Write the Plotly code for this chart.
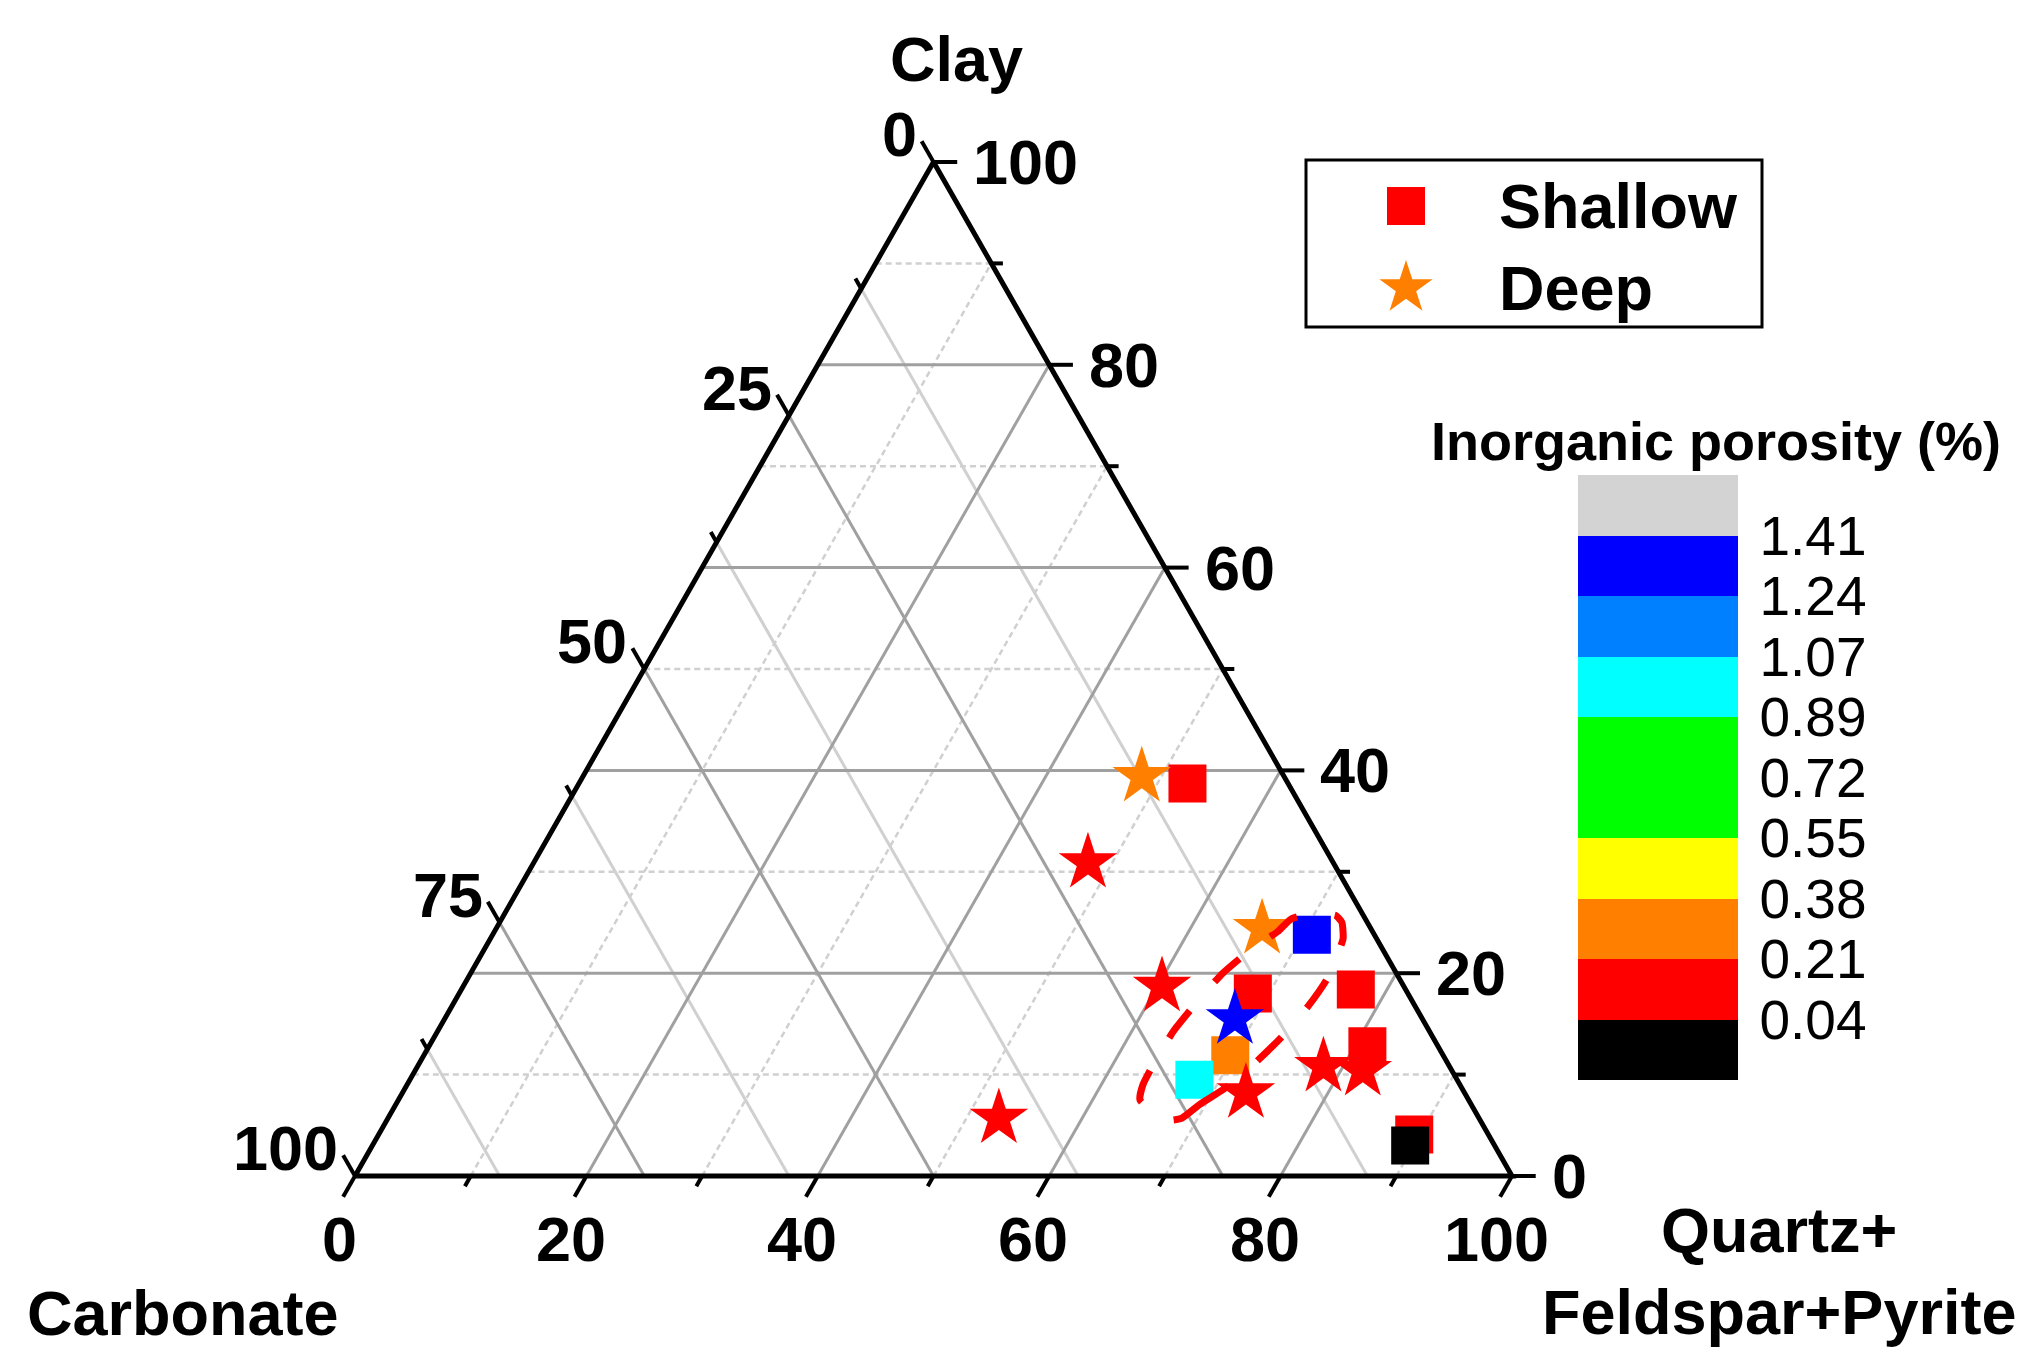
import math
import plotly.graph_objects as go

WIDTH = 2043
HEIGHT = 1367
FONT = "Liberation Sans, Arial, sans-serif"

# composition in % (quartz+feldspar+pyrite, clay; carbonate is the rest)
shallow_quartz = [52.6, 70.8, 68.6, 77.3, 69.7, 67.8, 81.1, 89.5, 89.7]
shallow_clay = [38.7, 23.8, 18.0, 18.4, 11.9, 9.5, 12.8, 4.1, 3.0]
shallow_carbonate = [8.7, 5.4, 13.4, 4.3, 18.4, 22.7, 6.1, 6.4, 7.3]
shallow_porosity = [0.15, 1.31, 0.12, 0.18, 0.29, 0.97, 0.10, 0.14, 0.02]

deep_quartz = [48.3, 47.9, 66.2, 60.4, 68.3, 72.9, 78.3, 81.9, 52.8]
deep_clay = [39.4, 30.9, 24.4, 18.7, 15.5, 8.2, 10.8, 10.4, 5.7]
deep_carbonate = [12.3, 21.2, 9.4, 20.9, 16.2, 18.9, 10.9, 7.7, 41.5]
deep_porosity = [0.30, 0.13, 0.26, 0.11, 1.28, 0.09, 0.16, 0.12, 0.07]

# dashed outline drawn around the main cluster
outline_quartz = [68.6, 69.5, 71.0, 72.2, 73.2, 74.0, 74.3, 74.0, 73.7, 72.8,
                  71.9, 69.6, 68.2, 67.7, 66.3, 65.0, 64.3, 63.6, 63.5, 63.6,
                  64.1, 67.4, 68.6]
outline_clay = [5.7, 7.1, 8.8, 11.1, 13.6, 16.7, 19.4, 21.8, 23.4, 25.0,
                25.7, 25.9, 25.3, 24.1, 22.4, 20.0, 17.6, 14.3, 11.2, 9.0,
                7.5, 5.5, 5.7]

porosity_breaks = [0.04, 0.21, 0.38, 0.55, 0.72, 0.89, 1.07, 1.24, 1.41]
porosity_labels = ["0.04", "0.21", "0.38", "0.55", "0.72", "0.89", "1.07", "1.24", "1.41"]
band_colors = ["#000000", "#ff0000", "#ff8000", "#ffff00", "#00ff00",
               "#00ff00", "#00ffff", "#0080ff", "#0000ff", "#d3d3d3"]

clay_major = [0, 20, 40, 60, 80, 100]
clay_minor = [10, 30, 50, 70, 90]
quartz_major = [0, 20, 40, 60, 80, 100]
quartz_minor = [10, 30, 50, 70, 90]
carbonate_major = [0, 25, 50, 75, 100]
carbonate_minor = [12.5, 37.5, 62.5, 87.5]

# pixel calibration of the triangle
X0_PX, PX_X = 355, 11.57
Y0_PX, PX_Y = 1176, 1014 / 86.6025
H = math.sqrt(3) / 2


def to_xy(quartz, clay):
    return [q + c / 2 for q, c in zip(quartz, clay)], [c * H for c in clay]


def px2data(px, py):
    return (px - X0_PX) / PX_X, (Y0_PX - py) / PX_Y


def band_position(values):
    return [sum(v >= b for b in porosity_breaks) + 0.5 for v in values]


def segments(pairs):
    xs, ys = [], []
    for (x0, y0), (x1, y1) in pairs:
        xs += [x0, x1, None]
        ys += [y0, y1, None]
    return xs, ys


def clay_line(c):
    return ((c / 2, c * H), (100 - c / 2, c * H))


def quartz_line(q):
    return ((q, 0), (q + (100 - q) / 2, (100 - q) * H))


def carbonate_line(k):
    return ((100 - k, 0), ((100 - k) / 2, (100 - k) * H))


colorscale = []
for i, col in enumerate(band_colors):
    colorscale += [[i / len(band_colors), col], [(i + 1) / len(band_colors), col]]

fig = go.Figure()

# grid
major = [clay_line(c) for c in clay_major[1:-1]] + \
        [quartz_line(q) for q in quartz_major[1:-1]] + \
        [carbonate_line(k) for k in carbonate_major[1:-1]]
light = [carbonate_line(k) for k in carbonate_minor]
dashed = [clay_line(c) for c in clay_minor] + [quartz_line(q) for q in quartz_minor]

for segs, color, width, dash in [
    (dashed, "#d0d0d0", 2.5, "6px,4px"),
    (light, "#d0d0d0", 3, "solid"),
    (major, "#a0a0a0", 3, "solid"),
]:
    xs, ys = segments(segs)
    fig.add_trace(go.Scatter(x=xs, y=ys, mode="lines", hoverinfo="skip",
                             line=dict(color=color, width=width, dash=dash)))

# ticks
MAJ, MIN = 2.05, 1.0
tick_pairs = []
for vals, ln in [(clay_major, MAJ), (clay_minor, MIN)]:
    for c in vals:
        tick_pairs.append(((100 - c / 2, c * H), (100 - c / 2 + ln, c * H)))
for vals, ln in [(quartz_major, MAJ), (quartz_minor, MIN)]:
    for q in vals:
        tick_pairs.append(((q, 0), (q - ln / 2, -ln * H)))
for vals, ln in [(carbonate_major, MAJ), (carbonate_minor, MIN)]:
    for k in vals:
        x, y = (100 - k) / 2, (100 - k) * H
        tick_pairs.append(((x, y), (x - ln / 2, y + ln * H)))
xs, ys = segments(tick_pairs)
fig.add_trace(go.Scatter(x=xs, y=ys, mode="lines", hoverinfo="skip",
                         line=dict(color="black", width=4)))

# triangle frame
fig.add_trace(go.Scatter(x=[0, 100, 50, 0], y=[0, 0, 100 * H, 0], mode="lines",
                         hoverinfo="skip", line=dict(color="black", width=5)))

# samples
sx, sy = to_xy(shallow_quartz, shallow_clay)
fig.add_trace(go.Scatter(
    x=sx, y=sy, mode="markers", name="Shallow",
    customdata=shallow_carbonate,
    marker=dict(symbol="square", size=38, opacity=1,
                color=band_position(shallow_porosity),
                colorscale=colorscale, cmin=0, cmax=len(band_colors), showscale=True,
                colorbar=dict(
                    thickness=160, thicknessmode="pixels",
                    len=605, lenmode="pixels",
                    x=1578 / WIDTH, xanchor="left",
                    y=1 - 777.5 / HEIGHT, yanchor="middle",
                    xpad=0, ypad=0, outlinewidth=0,
                    tickvals=list(range(1, len(band_colors))),
                    ticktext=porosity_labels,
                    ticks="outside", ticklen=11, tickcolor="rgba(0,0,0,0)",
                    tickfont=dict(size=55, family=FONT, color="black"),
                ),
                line=dict(width=0)),
))
dx, dy = to_xy(deep_quartz, deep_clay)
fig.add_trace(go.Scatter(
    x=dx, y=dy, mode="markers", name="Deep",
    customdata=deep_carbonate,
    marker=dict(symbol="star", size=44, opacity=1,
                color=band_position(deep_porosity),
                colorscale=colorscale, cmin=0, cmax=len(band_colors), showscale=False,
                line=dict(width=0)),
))

ox, oy = to_xy(outline_quartz, outline_clay)
fig.add_trace(go.Scatter(x=ox, y=oy, mode="lines", hoverinfo="skip",
                         line=dict(color="#ff0000", width=7, dash="34px,38px",
                                   shape="spline", smoothing=0.5)))

# legend (drawn by hand so the symbols keep their size)
lx, ly = zip(*[px2data(1406, 206), px2data(1406, 288)])
fig.add_trace(go.Scatter(x=list(lx), y=list(ly), mode="markers", hoverinfo="skip",
                         marker=dict(symbol=["square", "star"], size=[38, 40], opacity=1,
                                     color=["#ff0000", "#ff8000"], line=dict(width=0))))

bold = dict(family=FONT, size=63, color="black", weight="bold")
ann = []


def label(x, y, text, **kw):
    ann.append(dict(x=x, y=y, text=text, showarrow=False, xref="x", yref="y",
                    font=kw.pop("font", bold), **kw))


for c in clay_major:
    label(100 - c / 2 + MAJ, c * H, str(c), xanchor="left", yanchor="middle", xshift=14)
for q in quartz_major:
    label(q - MAJ / 2, -MAJ * H, str(q), xanchor="center", yanchor="middle",
          xshift=-4, yshift=-42)
for k in carbonate_major:
    x, y = (100 - k) / 2, (100 - k) * H
    label(x - MAJ / 2, y + MAJ * H, str(k), xanchor="right", yanchor="middle",
          xshift=-3, yshift=7)

for (px, py), text, anchor in [
    ((956, 59), "Clay", "center"),
    ((183, 1313), "Carbonate", "center"),
    ((1779, 1271), "Quartz+<br>Feldspar+Pyrite", "center"),
    ((1497, 206), "Shallow", "left"),
    ((1497, 288), "Deep", "left"),
]:
    x, y = px2data(px, py)
    label(x, y, text, xanchor=anchor, yanchor="middle")

x, y = px2data(1716, 441)
label(x, y, "Inorganic porosity (%)", xanchor="center", yanchor="middle",
      font=dict(family=FONT, size=54, color="black", weight="bold"))

xr = [px2data(0, 0)[0], px2data(WIDTH, 0)[0]]
yr = [px2data(0, HEIGHT)[1], px2data(0, 0)[1]]

fig.update_layout(
    width=WIDTH, height=HEIGHT,
    margin=dict(l=0, r=0, t=0, b=0),
    paper_bgcolor="white", plot_bgcolor="white",
    showlegend=False,
    annotations=ann,
    shapes=[dict(type="rect", xref="paper", yref="paper",
                 x0=1306 / WIDTH, x1=1762 / WIDTH,
                 y0=1 - 327 / HEIGHT, y1=1 - 160 / HEIGHT,
                 line=dict(color="black", width=3))],
    xaxis=dict(range=xr, visible=False, fixedrange=True),
    yaxis=dict(range=yr, visible=False, fixedrange=True),
)

fig.write_html("out.html", config={"displayModeBar": False},
               post_script="document.body.style.margin = '0px';")
